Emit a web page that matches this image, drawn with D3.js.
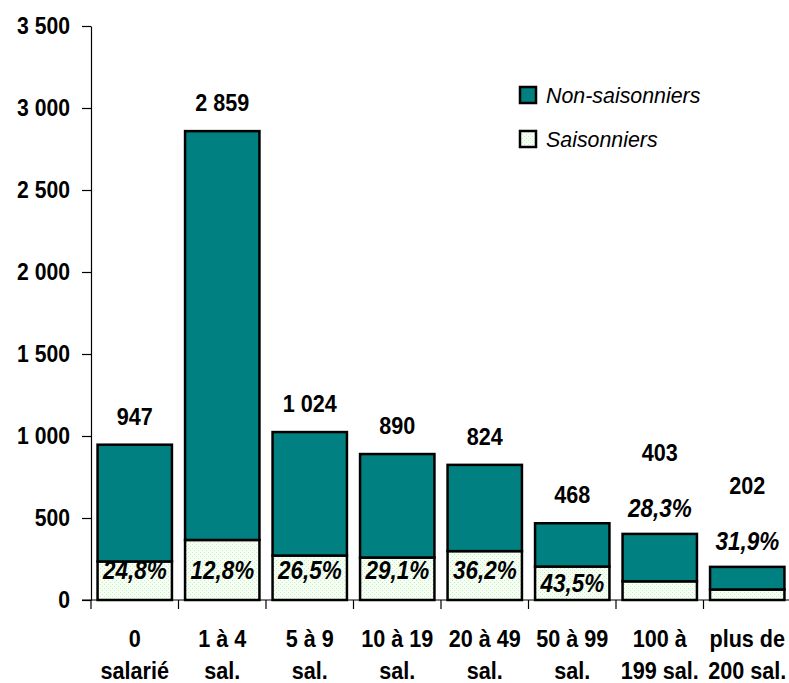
<!DOCTYPE html>
<html>
<head>
<meta charset="utf-8">
<script src="https://cdn.jsdelivr.net/npm/d3@7"></script>
<style>
  html, body { margin: 0; padding: 0; background: #fff; }
  svg { display: block; }
</style>
</head>
<body>
<svg id="chart" width="789" height="683"></svg>
<script>
// ---- data ----
const categoriesLine1 = ["0", "1 à 4", "5 à 9", "10 à 19", "20 à 49", "50 à 99", "100 à", "plus de"];
const categoriesLine2 = ["salarié", "sal.", "sal.", "sal.", "sal.", "sal.", "199 sal.", "200 sal."];
const totals = [947, 2859, 1024, 890, 824, 468, 403, 202];
const saisonniers = [235, 366, 271, 259, 298, 204, 114, 64];
const nonSaisonniers = [712, 2493, 753, 631, 526, 264, 289, 138];
const pctLabels = ["24,8%", "12,8%", "26,5%", "29,1%", "36,2%", "43,5%", "28,3%", "31,9%"];
const yTicks = [0, 500, 1000, 1500, 2000, 2500, 3000, 3500];
const seriesNames = ["Non-saisonniers", "Saisonniers"];

// ---- setup ----
const svg = d3.select("#chart");
const fr = d3.formatLocale({ decimal: ",", thousands: " ", grouping: [3], currency: ["", ""] });
const fmt = fr.format(",d");
const FONT = '"Liberation Sans", Arial, sans-serif';
const SX = 0.9; // horizontal condensing to mimic a narrow face

function sText(parent, x, y, str, o) {
  return parent.append("text")
    .attr("transform", `translate(${x},${y}) scale(${o.sx || SX},1)`)
    .attr("text-anchor", o.anchor || "middle")
    .attr("font-family", FONT)
    .attr("font-weight", o.weight || "bold")
    .attr("font-style", o.style || "normal")
    .attr("font-size", o.size)
    .attr("fill", "#000")
    .text(str);
}

const idx = d3.range(categoriesLine1.length);
const x = d3.scaleBand().domain(idx).range([91, 791]).paddingInner(0.15).paddingOuter(0.075);
const y = d3.scaleLinear().domain([0, 3500]).range([600, 26]);

const TEAL = "#008080";

// pattern for seasonal
const defs = svg.append("defs");
const pat = defs.append("pattern").attr("id", "dots").attr("patternUnits", "userSpaceOnUse")
  .attr("width", 4).attr("height", 4);
pat.append("rect").attr("width", 4).attr("height", 4).attr("fill", "#f6fff4");
pat.append("rect").attr("x", 0).attr("y", 0).attr("width", 1).attr("height", 1).attr("fill", "#c6efc0");
pat.append("rect").attr("x", 2).attr("y", 2).attr("width", 1).attr("height", 1).attr("fill", "#c6efc0");

// ---- y axis ----
const yAxis = d3.axisLeft(y).tickValues(yTicks).tickFormat("").tickSize(9).tickSizeOuter(0);
const gy = svg.append("g").attr("transform", "translate(91,0)").call(yAxis);
gy.select(".domain").attr("stroke", "#000").attr("stroke-width", 1.2);
gy.selectAll(".tick line").attr("stroke", "#000").attr("stroke-width", 1.2);
const gyl = svg.append("g");
yTicks.forEach(t => {
  sText(gyl, 70, y(t) + 8, fmt(t), { size: 23.5, anchor: "end" });
});

// ---- bars ----
const bars = svg.append("g");
idx.forEach(i => {
  const bx = x(i), bw = x.bandwidth();
  bars.append("rect").attr("x", bx).attr("width", bw)
    .attr("y", y(saisonniers[i])).attr("height", y(0) - y(saisonniers[i]))
    .attr("fill", "url(#dots)").attr("stroke", "#000").attr("stroke-width", 2.5);
  bars.append("rect").attr("x", bx).attr("width", bw)
    .attr("y", y(saisonniers[i] + nonSaisonniers[i])).attr("height", y(saisonniers[i]) - y(saisonniers[i] + nonSaisonniers[i]))
    .attr("fill", TEAL).attr("stroke", "#000").attr("stroke-width", 2.5);
});

// ---- x axis ----
const gx = svg.append("g");
gx.append("line").attr("x1", 82).attr("x2", 789).attr("y1", 600).attr("y2", 600)
  .attr("stroke", "#000").attr("stroke-width", 1.2);
const step = x.step();
d3.range(idx.length + 1).forEach(k => {
  const tx = 91 + k * step;
  gx.append("line").attr("x1", tx).attr("x2", tx).attr("y1", 600).attr("y2", 609)
    .attr("stroke", "#000").attr("stroke-width", 1.2);
});
idx.forEach(i => {
  const cx = x(i) + x.bandwidth() / 2;
  sText(gx, cx, 647, categoriesLine1[i], { size: 24 });
  sText(gx, cx, 679, categoriesLine2[i], { size: 24 });
});

// ---- labels ----
const lg = svg.append("g");
idx.forEach(i => {
  const cx = x(i) + x.bandwidth() / 2;
  const top = y(totals[i]);
  const segTop = y(saisonniers[i]);
  const segH = y(0) - segTop;
  let pctY, totY;
  if (segH >= 25) {
    pctY = (579 - 17 < segTop) ? segTop + 25 : 579;
    totY = top - 20;
  } else {
    pctY = top - 17;
    totY = pctY - 56;
  }
  sText(lg, cx, totY, fmt(totals[i]), { size: 24 });
  sText(lg, cx, pctY, pctLabels[i], { size: 25, style: "italic" });
});

// ---- legend ----
const leg = svg.append("g");
const legFill = [TEAL, "url(#dots)"];
const legY = [87, 131];
seriesNames.forEach((n, k) => {
  leg.append("rect").attr("x", 520).attr("y", legY[k]).attr("width", 16).attr("height", 16)
    .attr("fill", legFill[k]).attr("stroke", "#000").attr("stroke-width", 2.5);
  sText(leg, 546, legY[k] + 16, n, { size: 23, style: "italic", weight: "normal", anchor: "start", sx: 0.93 });
});
</script>
</body>
</html>
